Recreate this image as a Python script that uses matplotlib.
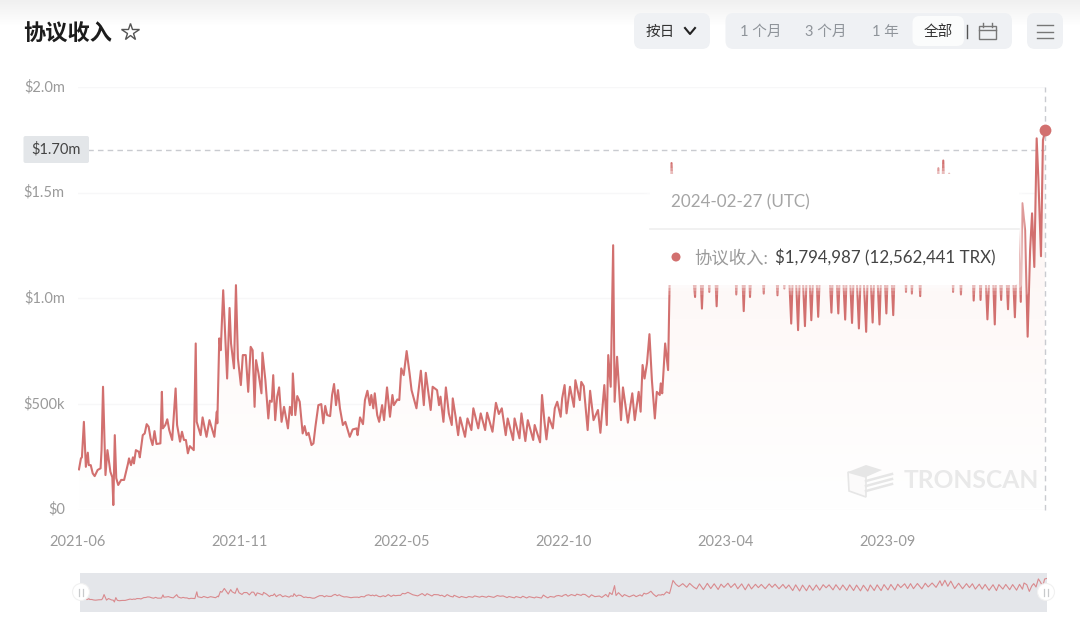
"""Protocol revenue chart (TRONSCAN style) with tooltip and zoom slider."""

import matplotlib

matplotlib.use("Agg")
import matplotlib.dates as mdates
import matplotlib.pyplot as plt
import numpy as np
import pandas as pd
from matplotlib.patches import Circle, FancyBboxPatch, Polygon, Rectangle
from matplotlib.transforms import ScaledTranslation

plt.rcParams["font.family"] = ["Lato", "Noto Sans CJK SC", "DejaVu Sans"]

START = pd.Timestamp("2021-06-17")

days_early = [0, 2, 3, 5, 7, 9, 10, 12, 14, 16, 19, 22, 23, 24.5, 27, 29, 32, 34, 35, 36.5,
              38, 40, 43, 46, 50, 51, 53, 55, 56, 58, 61, 62, 65, 67, 69, 71, 73, 75, 77, 79,
              83, 84.5, 85.5, 88, 90, 92, 95, 98.5, 100, 103, 105, 107, 109, 111, 113, 117, 119, 120]
vals_early = [190, 242, 247, 415, 202, 269, 210, 210, 171, 158, 187, 195, 281, 581, 163, 281, 179, 152, 21, 352,
              148, 116, 140, 140, 218, 242, 210, 247, 218, 281, 273, 247, 352, 360, 404, 392, 337, 305, 371, 310,
              313, 557, 384, 400, 427, 376, 329, 573, 400, 321, 368, 329, 329, 266, 300, 281, 786, 415]

days_peak = [124, 126, 130, 133, 138, 140.5, 141, 143, 144.5, 147, 149, 151, 153.5, 155, 158, 160, 162, 165,
             167, 170, 172.5, 175, 177, 179, 180.5, 183, 186, 187, 190, 193, 194.5, 196.5, 198, 200, 202, 204,
             206.5, 209, 213, 215, 217, 218, 220.5, 222.5, 225, 228, 230, 232, 234, 237, 239, 241, 244, 247,
             249, 251, 253, 256, 258, 260, 262, 264, 266, 269, 271.5, 276]
vals_peak = [352, 436, 344, 423, 344, 463, 408, 810, 754, 1038, 833, 620, 954, 786, 668, 1062, 715, 589,
             731, 731, 557, 770, 754, 486, 707, 644, 550, 742, 612, 431, 515, 510, 636, 423, 534, 578,
             415, 486, 384, 486, 447, 644, 447, 537, 510, 360, 395, 352, 363, 305, 313, 392, 494, 499,
             408, 490, 447, 442, 542, 594, 494, 565, 479, 400, 415, 344]

days_2022 = [279, 283, 284, 286.5, 289.5, 291.5, 294, 296.5, 298, 300, 301.5, 304, 306, 309, 311, 314, 317,
             319.5, 321, 324.5, 326.5, 328.5, 331, 334, 337, 339, 344, 348.5, 351.5, 353.5, 358.5, 360.5,
             365, 367, 368.5, 371.5, 374, 377, 380, 381, 384, 386.5, 388.5, 393.5, 396, 400, 402, 407,
             409.5, 414, 416, 421.5, 425, 428, 431, 435, 437, 442.5, 444, 449, 451, 455, 457.5, 463,
             464.5, 470, 472, 474.5, 476.5, 479, 483, 485, 487.5, 491, 492.5, 495, 497, 500.5, 504.5,
             506, 510.5, 512, 514.5, 518.5, 521, 524.5, 529, 531.5, 535.5, 538, 539.5, 542, 544.5, 546,
             548.5, 552.5, 554.5, 559.5, 564, 566.5, 570.5, 572.5, 574.5, 576.5, 579, 581.5, 584, 587,
             589, 592, 593, 594.5, 597.5, 600.5, 602, 604]
vals_2022 = [379, 384, 352, 436, 404, 518, 562, 494, 542, 479, 550, 447, 415, 494, 423, 578, 439,
             542, 494, 521, 518, 668, 636, 750, 644, 565, 479, 657, 494, 647, 471, 581,
             565, 494, 534, 415, 578, 455, 400, 526, 436, 352, 436, 344, 431, 376, 479, 384,
             455, 376, 458, 368, 505, 452, 479, 352, 431, 329, 431, 337, 455, 324, 423, 329,
             400, 318, 542, 415, 332, 436, 384, 479, 510, 439, 526, 589, 455, 581, 486,
             612, 518, 604, 584, 376, 562, 423, 471, 363, 589, 400, 731, 581, 1251, 510,
             723, 423, 578, 411, 550, 423, 557, 463, 684, 620, 692, 830, 612, 431,
             557, 542, 597, 550, 786, 660, 1062, 1640]

# peaks behind the tooltip are guesses, the weekly dips below it are visible
days_late = [607, 610, 614, 618, 621, 625, 628, 631, 635, 639, 642.5, 646, 650, 653, 656, 660, 663, 667,
             670, 674, 677.6, 681, 684, 688, 691, 694, 698, 702, 705, 708, 712, 716, 719, 722, 726, 729,
             733, 736, 740, 743, 746.5, 750, 753.5, 757, 760, 763, 767, 770, 774, 777, 781, 784, 788, 791,
             795, 798, 802.4, 805, 809, 812, 816, 819, 823, 826, 830, 833, 836, 840, 843, 846, 849, 853,
             857.5, 861, 864, 868, 872, 876, 878, 881, 884, 887, 891, 895, 899, 903, 906, 909, 912, 916,
             919, 922, 926, 930, 933.5, 936, 940, 943, 947, 950, 954, 957, 960, 961.6, 964.4, 967, 969.5,
             971.5, 973.8, 976.2, 978, 980.6, 982.6, 985]
vals_late = [1350, 1180, 1400, 1130, 1420, 1150, 1006, 1380, 951, 1420, 1030, 1390, 962, 1360, 1120, 1430, 1110, 1400,
             1018, 1380, 939, 1370, 1006, 1350, 1100, 1340, 1022, 1380, 1120, 1360, 1014, 1340, 1046, 1300, 880, 1310,
             849, 1290, 868, 1280, 896, 1300, 912, 1320, 1090, 1310, 932, 1320, 928, 1300, 899, 1310, 883, 1290,
             857, 1280, 841, 1300, 885, 1310, 876, 1330, 928, 1340, 920, 1360, 1100, 1390, 1030, 1400, 1022, 1410,
             1010, 1430, 1150, 1450, 1120, 1615, 1240, 1652, 1200, 1590, 1030, 1430, 1018, 1400, 1100, 1390, 989, 1360,
             992, 1340, 900, 1320, 876, 1330, 992, 1340, 948, 1330, 910, 1346, 983, 1450, 1322, 818, 1227,
             1402, 1148, 1757, 1558, 1199, 1749, 1794.987]

days = np.array(days_early + days_peak + days_2022 + days_late, dtype=float)
revenue = np.array(vals_early + vals_peak + vals_2022 + vals_late, dtype=float) * 1000
dates = START + pd.to_timedelta(days, unit="D")

y_ticks = [0, 500_000, 1_000_000, 1_500_000, 2_000_000]
y_labels = ["$0", "$500k", "$1.0m", "$1.5m", "$2.0m"]
x_tick_days = [-1, 164, 329, 494, 659, 824]
cursor_value = 1_700_000

LINE = "#d2706f"
GREY_TEXT = "#9a9a9a"
W, H = 1080, 633


def px_axes(fig, x0, y0, x1, y1):
    """Axes placed by pixel box, y counted from the top."""
    return fig.add_axes([x0 / W, 1 - y1 / H, (x1 - x0) / W, (y1 - y0) / H])


def round_box(ax, x0, y0, x1, y1, color, r=6, zorder=2, **kw):
    box = FancyBboxPatch((x0 + r, y0 + r), x1 - x0 - 2 * r, y1 - y0 - 2 * r,
                         boxstyle=f"round,pad={r},rounding_size={r}",
                         fc=color, ec="none", zorder=zorder, **kw)
    ax.add_patch(box)


fig = plt.figure(figsize=(W / 100, H / 100), dpi=100, facecolor="white")

# main chart
ax = px_axes(fig, 78, 87, 1045.3, 509.5)
ax.set_facecolor("none")
t0 = mdates.date2num(START)
line_dates = mdates.date2num(dates)

fill = ax.fill_between(line_dates, revenue, 0, color="none")
rgba = np.ones((256, 1, 3))
top_rgb = np.array(matplotlib.colors.to_rgb("#fdf3f1"))
rgba[:, 0, :] = np.linspace(top_rgb, np.ones(3), 256)
img = ax.imshow(rgba, extent=(t0, t0 + 985, 0, revenue.max()), origin="upper", aspect="auto", zorder=1)
img.set_clip_path(fill.get_paths()[0], transform=ax.transData)
ax.set_xlim(t0, t0 + 985)
ax.set_ylim(0, 2_000_000)

ax.plot(line_dates, revenue, color=LINE, lw=1.5, solid_joinstyle="round", zorder=3)
ax.plot(line_dates[-1], revenue[-1], "o", color=LINE, ms=8.5, mec="none", zorder=5, clip_on=False)
ax.axhline(cursor_value, color="#c9cbd0", lw=1, dashes=(4, 3), zorder=2)
ax.axvline(line_dates[-1], color="#c9cbd0", lw=1, dashes=(4, 3), zorder=2, clip_on=False)

ax.set_yticks(y_ticks, y_labels)
ax.set_xticks([t0 + d for d in x_tick_days])
ax.xaxis.set_major_formatter(mdates.DateFormatter("%Y-%m"))
ax.tick_params(length=0, labelcolor=GREY_TEXT, labelsize=10.5)
ax.tick_params(axis="y", pad=9.5)
ax.tick_params(axis="x", pad=18.7)
ax.grid(axis="y", color="#f7f7f8", lw=1)
ax.set_axisbelow(True)
for side in ax.spines.values():
    side.set_visible(False)
nudge_up = ScaledTranslation(0, 1.5 / 100, fig.dpi_scale_trans)
for label in ax.get_yticklabels():
    label.set_transform(label.get_transform() + nudge_up)

# zoom slider strip
mini = px_axes(fig, 80, 573, 1047, 612)
mini.set_facecolor("#e4e6ea")
mini.plot(line_dates, revenue, color="#d98a8e", lw=0.8)
mini.set_xlim(t0, t0 + 985)
mini.set_ylim(-730_000, 2_200_000)
mini.set_xticks([])
mini.set_yticks([])
for side in mini.spines.values():
    side.set_visible(False)

# page furniture in pixel coordinates
ui = px_axes(fig, 0, 0, W, H)
ui.set_xlim(0, W)
ui.set_ylim(H, 0)
ui.axis("off")
ui.patch.set_alpha(0)

band = np.linspace(0, 1, 30).reshape(-1, 1)
band_rgba = np.ones((30, 1, 4))
band_rgba[..., :3] = 0.945
band_rgba[..., 3] = 1 - band
ui.imshow(band_rgba, extent=(0, W, 26, 0), aspect="auto", zorder=0)
ui.set_xlim(0, W)
ui.set_ylim(H, 0)

ui.text(23, 32, "协议收入", fontsize=16, fontweight="bold", color="#1c1c1c", va="center_baseline", ha="left")
ui.plot(130, 32, marker="*", ms=13, mfc="white", mec="#555555", mew=1)

# control bar
round_box(ui, 634, 13, 710, 49, "#eff1f4", r=8)
round_box(ui, 725.5, 13, 1012, 49, "#eff1f4", r=8)
round_box(ui, 912.5, 16, 964, 46, "#fbfcfc", r=7, zorder=3)
round_box(ui, 1027, 13, 1063, 49, "#eff1f4", r=8)
ui.text(660, 32, "按日", fontsize=10.5, color="#333333", ha="center", va="center", zorder=4)
ui.plot([685, 690, 695], [28, 34, 28], color="#222222", lw=1.5, zorder=4)
for label, xc, col in [("1 个月", 761, "#8f949a"), ("3 个月", 826, "#8f949a"),
                       ("1 年", 885, "#8f949a"), ("全部", 938, "#333333")]:
    ui.text(xc, 32, label, fontsize=10.5, color=col, ha="center", va="center", zorder=4)
ui.plot([967, 967], [25, 38], color="#555555", lw=1, zorder=4)
ui.add_patch(Rectangle((979, 26), 16.5, 13, fc="none", ec="#777777", lw=1, zorder=4))
ui.plot([979, 995.5], [30, 30], color="#777777", lw=1, zorder=4)
ui.plot([983, 983], [23, 27], color="#777777", lw=1, zorder=4)
ui.plot([992, 992], [23, 27], color="#777777", lw=1, zorder=4)
for yy in (25, 32, 38):
    ui.plot([1037, 1053], [yy, yy], color="#777777", lw=1, zorder=4)

# value tag on the cursor line
round_box(ui, 23.5, 136, 89, 163, "#e3e6e9", r=2)
ui.text(56, 149.5, "$1.70m", fontsize=10.5, color="#444444", ha="center", va="center", zorder=4)

# tooltip
for grow, alpha in [(10, 0.12), (6, 0.2), (3, 0.35)]:
    round_box(ui, 650 - grow, 174 - grow, 1019 + grow, 285 + grow, "#ffffff", r=4, zorder=6, alpha=alpha)
round_box(ui, 650, 174, 1019, 285, "#ffffff", r=4, zorder=7)
ui.plot([650, 1019], [229, 229], color="#efefef", lw=1.2, zorder=8)
ui.text(671, 202.5, "2024-02-27 (UTC)", fontsize=12.25, color="#a5a5a5", ha="left", va="center", zorder=8)
ui.add_patch(Circle((676, 257), 4.5, fc=LINE, ec="none", zorder=8))
ui.text(694, 258, "协议收入:", fontsize=12.5, color="#9a9a9a", ha="left", va="center", zorder=8)
ui.text(775, 258, "$1,794,987 (12,562,441 TRX)", fontsize=12.2, color="#444444", ha="left", va="center", zorder=8)

# watermark
ui.text(904, 481, "TRONSCAN", fontsize=17.7, fontweight="bold", color="#e9e9e9", ha="left", va="center", zorder=2)
ui.add_patch(Polygon([[848, 472], [866, 465], [882, 470], [866, 477]], fc="#e6e6e6", ec="none", zorder=2))
ui.add_patch(Polygon([[848, 472], [866, 477], [866, 497], [849, 491]], fc="#fbfafa", ec="#e6e6e6", lw=1.2, zorder=2))
for yy in (478, 483, 488):
    ui.plot([866, 892], [yy + 3, yy - 4], color="#e6e6e6", lw=1.8, zorder=2)

# slider handles
for xc in (81, 1046):
    ui.add_patch(Circle((xc, 592), 8.5, fc="white", ec="#f1f1f1", lw=0.8, zorder=5))
    ui.plot([xc - 1.7, xc - 1.7], [588.5, 595.5], color="#c8cacc", lw=0.9, zorder=6)
    ui.plot([xc + 1.7, xc + 1.7], [588.5, 595.5], color="#c8cacc", lw=0.9, zorder=6)

fig.savefig("out.png", dpi=100)
plt.close(fig)
